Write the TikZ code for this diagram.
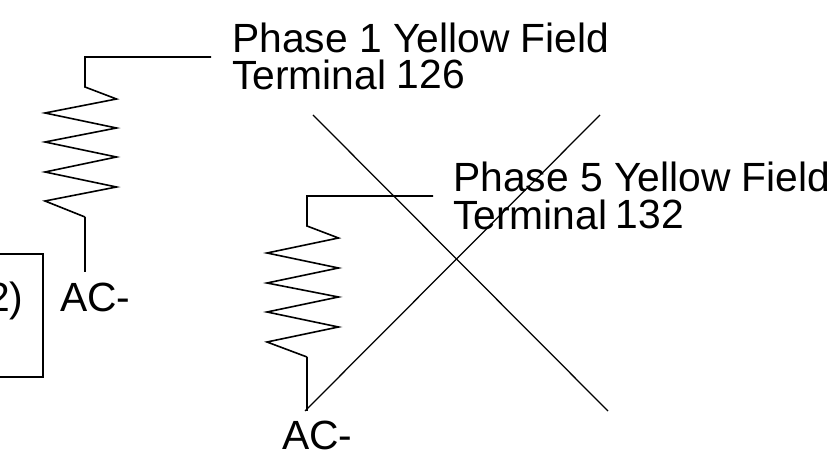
\documentclass[tikz,border=0pt]{standalone}
\usepackage{fontspec}
\setmainfont{Liberation Sans}
\tikzset{wire/.style={line width=1.25pt,line join=miter,black},
coil/.style={line width=1.6pt,line join=miter,black},
lbl/.style={inner sep=0pt,anchor=base west,font=\fontsize{40.8}{40.8}\selectfont}}
\begin{document}
\begin{tikzpicture}[x=1pt,y=-1pt]
\useasboundingbox (0,0) rectangle (831,454);
\node[lbl] (p1a) at (232,52.5) {Phase 1 Yellow Field};
\node[lbl] (p1b) at (232,90) {Terminal\kern10.5pt\raisebox{1.3pt}{126}};
\node[lbl] (p5a) at (453,192) {Phase 5 Yellow Field};
\node[lbl] (p5b) at (453,230) {Terminal\kern8.5pt\raisebox{1.3pt}{132}};
\node[lbl] (ac1) at (60,312) {AC-};
\node[lbl] (ac2) at (282,450) {AC-};
\begin{scope}
\clip (0,0) rectangle (831,454);
\node[lbl] (two) at (-13,312) {2)};
\end{scope}
\draw[wire] (0,254) -- (43,254) -- (43,377) -- (0,377);
\draw[coil] (211,57) -- (85,57) -- (85,87) -- (116.5,99) -- (45,113) -- (116.5,128) -- (45,142) -- (116.5,157) -- (45,172) -- (116.5,187) -- (45,201) -- (85,217);
\draw[wire] (85,217) -- (85,272);
\draw[coil] (433,196) -- (307,196) -- (307,226) -- (338.5,238) -- (267,253) -- (338.5,268) -- (267,283) -- (338.5,297) -- (267,312) -- (338.5,327) -- (267,342) -- (307,357);
\draw[wire] (307,357) -- (307,411);
\draw[wire] (313,115) -- (608,411);
\draw[wire] (305,411) -- (600,115);
\end{tikzpicture}
\end{document}
